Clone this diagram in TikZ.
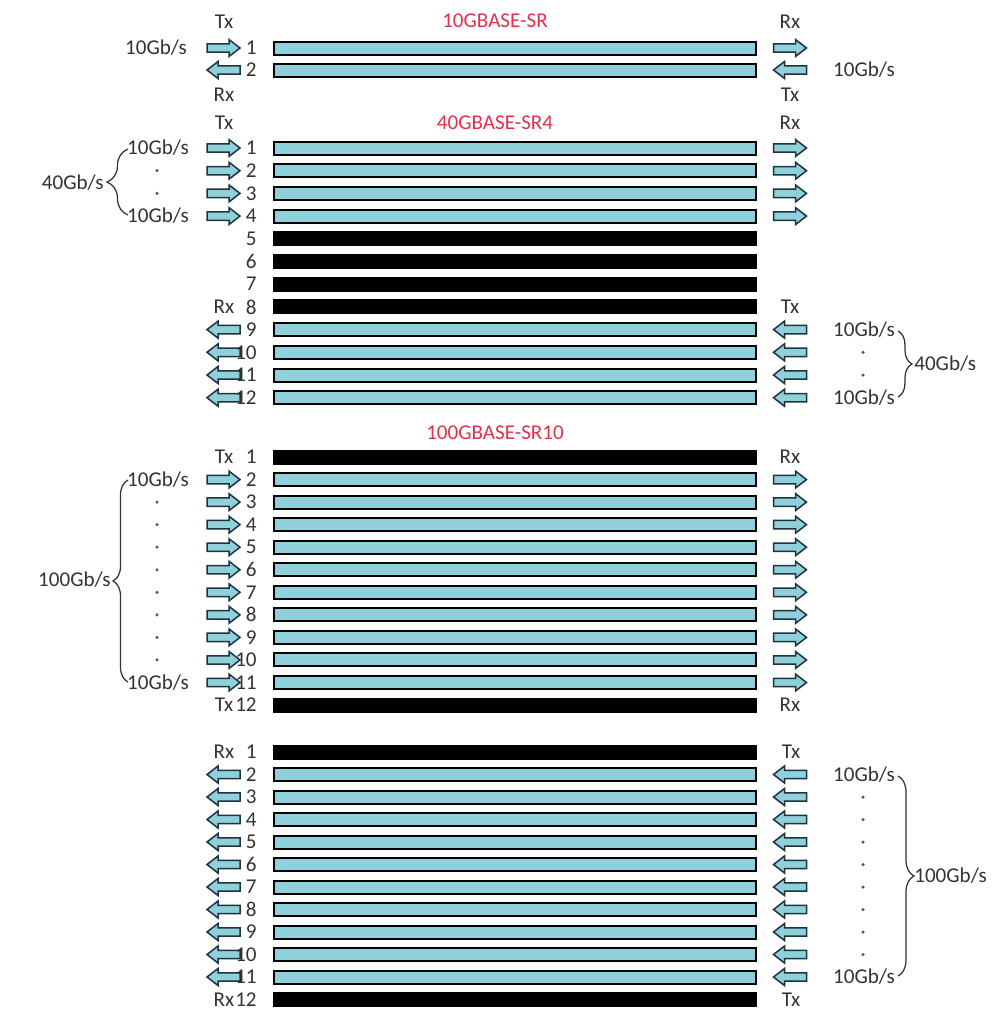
\documentclass[tikz,border=0pt]{standalone}
\usepackage{fontspec}
\setmainfont{Carlito}
\usetikzlibrary{decorations.pathreplacing}
\definecolor{fib}{HTML}{8FD0DB}
\definecolor{txt}{HTML}{333333}
\definecolor{ttl}{HTML}{E2304A}
\definecolor{arr}{HTML}{1C3440}
\tikzset{
 lbl/.style={font=\fontsize{12}{14}\selectfont, text=txt, inner sep=0pt},
 ttlstyle/.style={lbl, text=ttl},
 fiber/.style={draw=black, line width=0.04cm, fill=fib, minimum width=9.64cm, minimum height=0.26cm, inner sep=0pt},
 darkfiber/.style={fiber, fill=black},
 arrowstyle/.style={draw=arr, line width=0.03cm, fill=fib, line join=miter},
 rpic/.pic={\path[arrowstyle] (-16.5,-4.2) -- (5.5,-4.2) -- (5.5,-8.5) -- (16.5,0) -- (5.5,8.5) -- (5.5,4.2) -- (-16.5,4.2) -- cycle;},
 lpic/.pic={\path[arrowstyle] (16.5,-4.2) -- (-5.5,-4.2) -- (-5.5,-8.5) -- (-16.5,0) -- (-5.5,8.5) -- (-5.5,4.2) -- (16.5,4.2) -- cycle;},
 dotn/.style={circle, fill=txt!80, inner sep=0pt, minimum size=0.07cm},
 brc/.style={decorate, decoration={brace, amplitude=#1}, draw=txt, line width=0.025cm},
 brcm/.style={decorate, decoration={brace, amplitude=#1, mirror}, draw=txt, line width=0.025cm},
}
\begin{document}
\begin{tikzpicture}[x=0.02cm, y=-0.02cm]
\useasboundingbox (0,0) rectangle (1004,1012);
% ---------------- Section 1: 10GBASE-SR
\node[ttlstyle] (t1) at (495,21) {10GBASE-SR};
\node[lbl] (s1tx) at (224,22) {Tx};
\node[lbl] (s1rx) at (224,95) {Rx};
\node[lbl] (s1rxr) at (790,22) {Rx};
\node[lbl] (s1txr) at (790,95) {Tx};
\node[fiber] (s1b1) at (515,48) {};
\node[fiber] (s1b2) at (515,70) {};
\node[lbl, anchor=east] (s1n1) at (257,48) {1};
\node[lbl, anchor=east] (s1n2) at (257,70) {2};
\pic (s1l1) at (223.5,48) {rpic};
\pic (s1r1) at (790,48) {rpic};
\pic (s1l2) at (223.5,70) {lpic};
\pic (s1r2) at (790,70) {lpic};
\node[lbl] (s1g1) at (156,48) {10Gb/s};
\node[lbl] (s1g2) at (864,70) {10Gb/s};
% ---------------- Section 2: 40GBASE-SR4
\node[ttlstyle] (t2) at (495,123) {40GBASE-SR4};
\node[lbl] (s2tx) at (224,123) {Tx};
\node[lbl] (s2rxr) at (790,123) {Rx};
\foreach \r in {1,...,12}{
  \pgfmathsetmacro\yy{148+(\r-1)*22.7}
  \ifnum\r<5
    \node[fiber] (s2b\r) at (515,\yy) {};
    \pic (s2l\r) at (223.5,\yy) {rpic};
    \pic (s2r\r) at (790,\yy) {rpic};
  \else\ifnum\r<9
    \node[darkfiber] (s2b\r) at (515,\yy) {};
  \else
    \node[fiber] (s2b\r) at (515,\yy) {};
    \pic (s2l\r) at (223.5,\yy) {lpic};
    \pic (s2r\r) at (790,\yy) {lpic};
  \fi\fi
  \node[lbl, anchor=east] (s2n\r) at (257,\yy) {\r};
}
\node[lbl] (s2rx) at (224,306.9) {Rx};
\node[lbl] (s2txr) at (790,306.9) {Tx};
\node[lbl] (s2g1) at (158,148) {10Gb/s};
\node[lbl] (s2g4) at (158,216.1) {10Gb/s};
\node[dotn] (s2d2) at (157,170.7) {};
\node[dotn] (s2d3) at (157,193.4) {};
\coordinate (s2bt) at (128,149);
\coordinate (s2bb) at (128,215);
\draw[brcm=0.42cm] (s2bt) -- (s2bb);
\node[lbl, anchor=east] (s2tot) at (104,183) {40Gb/s};
\node[lbl] (s2g9) at (864,329.6) {10Gb/s};
\node[lbl] (s2g12) at (864,397.7) {10Gb/s};
\node[dotn] (s2d10) at (863,352.3) {};
\node[dotn] (s2d11) at (863,375) {};
\coordinate (s2ct) at (898,331);
\coordinate (s2cb) at (898,397);
\draw[brc=0.28cm] (s2ct) -- (s2cb);
\node[lbl, anchor=west] (s2totr) at (914,364) {40Gb/s};
% ---------------- Section 3: 100GBASE-SR10
\node[ttlstyle] (t3) at (495,433) {100GBASE-SR10};
\foreach \r in {1,...,12}{
  \pgfmathsetmacro\yy{457+(\r-1)*22.55}
  \ifnum\r=1
    \node[darkfiber] (s3b\r) at (515,\yy) {};
  \else\ifnum\r=12
    \node[darkfiber] (s3b\r) at (515,\yy) {};
  \else
    \node[fiber] (s3b\r) at (515,\yy) {};
    \pic (s3l\r) at (223.5,\yy) {rpic};
    \pic (s3r\r) at (790,\yy) {rpic};
  \fi\fi
  \ifnum\r>2\ifnum\r<11
    \node[dotn] (s3d\r) at (157,\yy) {};
  \fi\fi
  \node[lbl, anchor=east] (s3n\r) at (257,\yy) {\r};
}
\node[lbl] (s3tx1) at (224,457) {Tx};
\node[lbl] (s3tx12) at (224,705) {Tx};
\node[lbl] (s3rx1) at (790,457) {Rx};
\node[lbl] (s3rx12) at (790,705) {Rx};
\node[lbl] (s3g2) at (158,479.6) {10Gb/s};
\node[lbl] (s3g11) at (158,682.5) {10Gb/s};
\coordinate (s3bt) at (128,480);
\coordinate (s3bb) at (128,682);
\draw[brcm=0.3cm] (s3bt) -- (s3bb);
\node[lbl, anchor=east] (s3tot) at (111,580) {100Gb/s};
% ---------------- Section 4
\foreach \r in {1,...,12}{
  \pgfmathsetmacro\yy{752+(\r-1)*22.5}
  \ifnum\r=1
    \node[darkfiber] (s4b\r) at (515,\yy) {};
  \else\ifnum\r=12
    \node[darkfiber] (s4b\r) at (515,\yy) {};
  \else
    \node[fiber] (s4b\r) at (515,\yy) {};
    \pic (s4l\r) at (223.5,\yy) {lpic};
    \pic (s4r\r) at (790,\yy) {lpic};
  \fi\fi
  \ifnum\r>2\ifnum\r<11
    \node[dotn] (s4d\r) at (863,\yy) {};
  \fi\fi
  \node[lbl, anchor=east] (s4n\r) at (257,\yy) {\r};
}
\node[lbl] (s4rx1) at (224,752) {Rx};
\node[lbl] (s4rx12) at (224,999.5) {Rx};
\node[lbl] (s4tx1) at (791,752) {Tx};
\node[lbl] (s4tx12) at (791,999.5) {Tx};
\node[lbl] (s4g2) at (864,774.5) {10Gb/s};
\node[lbl] (s4g11) at (864,977) {10Gb/s};
\coordinate (s4ct) at (898,776);
\coordinate (s4cb) at (898,976);
\draw[brc=0.32cm] (s4ct) -- (s4cb);
\node[lbl, anchor=west] (s4tot) at (914,876) {100Gb/s};
\end{tikzpicture}
\end{document}
